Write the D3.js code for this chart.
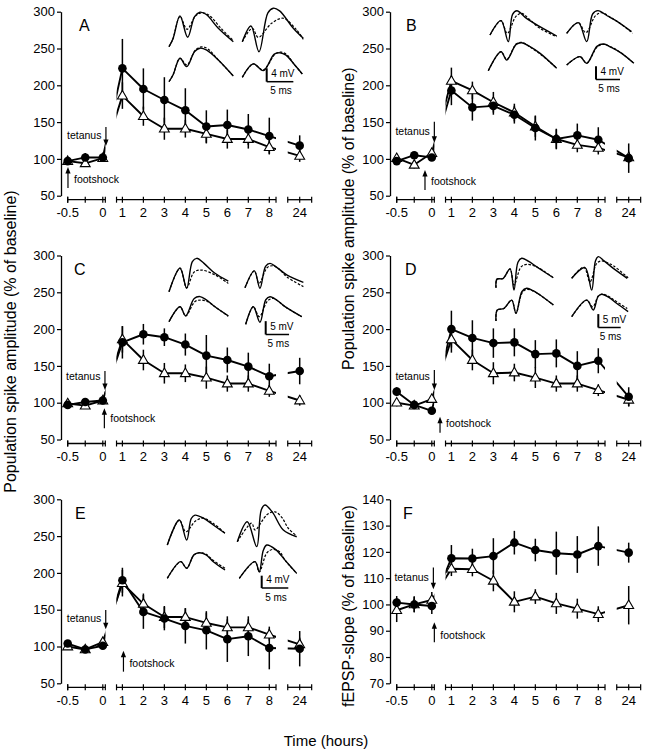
<!DOCTYPE html>
<html><head><meta charset="utf-8">
<script src="https://cdn.jsdelivr.net/npm/d3@7"></script>
<style>
body{margin:0;background:#fff}
svg{display:block}
text{font-family:"Liberation Sans",Arial,Helvetica,sans-serif;fill:#000}
</style>
</head><body>
<svg id="c" width="649" height="756"></svg>
<script>
// ---------------- DATA ----------------
const hours = [-0.5,-0.25,0,1,2,3,4,5,6,7,8,24];
const xTickValues = [-0.5,-0.25,0,1,2,3,4,5,6,7,8,24];
const xTickLabels = ["-0.5","","0","1","2","3","4","5","6","7","8","24"];
const yTicksSpike = [50,100,150,200,250,300];
const yTicksSlope = [70,80,90,100,110,120,130,140];

const circleA = [97,102,102,223,195,180,166,144,146,140,131,118];
const circleErrA = [5,6,5,40,28,31,30,22,21,21,25,14];
const triangleA = [97,94,101,186,158,141,141,134,127,127,116,104];
const triangleErrA = [4,4,4,18,13,15,12,13,13,13,9,8];

const circleB = [97,105,102,193,170,172,160,142,127,132,126,101];
const circleErrB = [4,4,5,20,18,12,12,17,14,16,17,20];
const triangleB = [101,92,108,206,193,177,163,144,127,119,115,102];
const triangleErrB = [5,5,6,18,12,14,12,14,13,10,9,8];

const circleC = [97,101,103,182,193,189,179,164,158,149,136,143];
const circleErrC = [4,4,5,22,14,12,15,28,17,19,17,18];
const triangleC = [99,96,103,186,158,140,140,134,126,126,116,103];
const triangleErrC = [4,4,4,18,14,14,12,15,11,11,8,7];

const circleD = [115,97,89,200,188,181,182,166,167,150,157,108];
const circleErrD = [6,4,3,25,24,20,19,19,19,20,17,13];
const triangleD = [100,96,105,186,158,140,141,134,126,126,117,104];
const triangleErrD = [5,4,5,18,14,15,12,14,11,11,8,9];

const circleE = [104,96,101,190,147,138,128,122,110,114,98,97];
const circleErrE = [4,4,4,17,23,16,24,26,31,27,29,24];
const triangleE = [100,96,106,186,158,140,140,132,126,126,116,103];
const triangleErrE = [4,4,5,18,14,15,12,14,11,11,8,9];

const circleF = [100.7,100,99.4,117.6,117.5,118.4,123.5,120.7,119.5,119,122.2,119.7];
const circleErrF = [2.5,3,3,5,3.7,6.8,4.5,4.3,8.2,7,7.5,3.8];
const triangleF = [97.8,100,101.7,113.6,113.4,109,101,103,100.4,98.4,96.3,99.7];
const triangleErrF = [4.5,3,3,2.8,2.7,4,4,2.8,4,3.8,3,7.3];

// annotation arrows: [x (h), tip value, tail value, text value]
const tetanusArrows = {A:[0.16,117.5,143.4,132.5],B:[0.13,122,150.5,137],C:[0.11,117.3,143,136.3],D:[0.13,117.3,144.4,136.3],E:[0.15,123.4,149.6,138.3],F:[0.08,105.8,114.1,110.2]};
const footshockArrows = {A:[-0.496,89,60.5,72.7],B:[-0.097,85,57.7,69],C:[0.08,92.4,65.2,78.8],D:[0.42,81,59.2,72],E:[1.05,94.3,65.8,77.2],F:[0.13,93.2,85.6,88.3]};

// sample traces [ms, mV] relative to trace start (solid = after, dashed = before)
const tracesA = [
 {solid:[[0,0],[0.75,2.4],[2.06,9.2],[3.5,2.8],[4.8,9.0],[5.8,10.3],[7.0,9.6],[9.25,5.5],[12.07,1.5]],
  dashed:[[0,0],[0.75,2.4],[2.06,9.0],[3.38,5.2],[5.0,9.2],[6.25,10.1],[7.5,9.4],[9.75,5.5],[12.07,1.8]]},
 {solid:[[0,0],[1.63,4.7],[3.13,-3.0],[4.8,8.6],[5.82,10.0],[7.0,9.2],[9.57,4.0],[11.44,1.0]],
  dashed:[[0,0],[1.88,4.0],[3.0,1.3],[5.5,5.5],[7.7,7.0],[10.2,3.5],[11.44,0.7]]},
 {solid:[[0,0],[0.75,2.0],[2.06,7.0],[3.32,4.5],[4.8,9.0],[5.82,10.0],[7.0,9.5],[9.25,6.5],[12.07,1.7]],
  dashed:[[0,0],[0.75,2.0],[2.06,7.0],[3.32,5.0],[5.0,9.5],[6.13,10.4],[7.3,9.8],[9.25,6.5],[12.07,1.7]]},
 {solid:[[0,0],[2.06,4.0],[3.94,2.0],[6.0,6.9],[7.07,7.3],[8.2,6.6],[9.57,4.2],[11.26,1.0]],
  dashed:[[0,0],[2.06,4.0],[3.94,2.2],[6.2,7.0],[7.3,7.5],[8.4,6.7],[9.57,4.2],[11.26,1.0]]}
];
const tracesB = [
 {solid:[[0,0],[2.29,4.3],[3.81,-2.0],[4.7,6.2],[5.6,7.3],[7.6,5.0],[10.4,2.5],[13.9,-0.3]],
  dashed:[[0,0],[2.29,4.3],[3.6,0.5],[5.4,5.6],[6.6,6.5],[8.0,5.0],[10.4,2.0],[13.9,-0.5]]},
 {solid:[[0,0],[2.42,3.2],[4.17,-2.5],[5.4,5.8],[6.5,6.8],[8.5,5.2],[11.1,3.0],[13.5,0.5]],
  dashed:[[0,0],[2.42,3.2],[4.0,0.2],[6.0,5.3],[7.3,6.2],[9.0,4.9],[11.1,3.0],[13.75,0]]},
 {solid:[[0,0],[2.65,5.7],[3.83,3.2],[5.8,7.9],[6.96,8.4],[8.6,7.3],[10.8,5.2],[14.25,0.7]],
  dashed:[[0,0],[2.65,5.7],[3.83,3.4],[5.8,8.0],[6.96,8.5],[8.6,7.2],[10.8,5.0],[14.25,0.8]]},
 {solid:[[0,0],[2.77,2.5],[4.17,0.5],[6.3,5.6],[7.63,6.3],[9.3,5.3],[11.46,3.5],[14.0,0.5]],
  dashed:[[0,0],[2.77,2.5],[4.17,0.6],[6.4,5.5],[7.8,6.2],[9.4,5.3],[11.46,3.5],[14.0,0.5]]}
];
const tracesC = [
 {solid:[[0,0],[2.36,8.8],[3.79,1.3],[5.0,11.3],[5.93,12.5],[7.5,10.6],[9.85,6.9],[12.7,4.0]],
  dashed:[[0,0],[2.36,8.8],[3.79,1.5],[5.4,7.4],[7.0,8.1],[9.85,6.3],[12.7,3.1]]},
 {solid:[[0,0],[2.0,6.3],[3.2,-0.2],[4.4,8.0],[5.35,9.1],[6.8,7.6],[8.93,4.8],[12.5,2.0]],
  dashed:[[0,0],[2.0,6.3],[3.0,1.6],[4.8,7.6],[6.06,8.2],[7.3,7.0],[8.93,4.1],[12.5,0.4]]},
 {solid:[[0,0],[2.36,5.6],[3.57,2.2],[5.4,8.7],[6.64,9.4],[8.0,8.2],[9.85,5.6],[12.7,2.2]],
  dashed:[[0,0],[2.36,5.6],[3.57,2.2],[5.6,7.6],[7.0,8.1],[8.3,7.5],[9.85,5.6],[12.7,2.0]]},
 {solid:[[0,0],[1.63,6.6],[3.06,0.75],[4.3,9.2],[5.2,10.3],[6.7,9.0],[8.42,6.6],[12.0,2.85]],
  dashed:[[0,0],[1.63,6.6],[2.91,2.85],[4.7,8.8],[5.91,9.7],[7.0,8.6],[8.42,6.6],[12.0,2.85]]}
];
const tracesD = [
 {solid:[[0,0],[0.22,3.2],[1.56,3.4],[3.13,7.0],[4.02,-0.9],[4.9,9.5],[5.74,11.0],[7.2,9.9],[9.08,7.8],[12.8,3.7]],
  dashed:[[0,0],[0.22,3.2],[1.56,3.4],[3.13,7.0],[4.02,1.0],[5.6,7.8],[6.85,8.7],[9.08,7.8],[12.8,3.7]]},
 {solid:[[0,0],[2.97,4.0],[4.46,-4.4],[5.3,6.5],[5.94,8.1],[7.3,6.4],[9.29,3.7],[12.4,0]],
  dashed:[[0,0],[2.7,4.2],[4.08,-1.3],[5.6,5.6],[6.7,6.5],[8.0,5.8],[9.29,4.7],[12.6,0.2]]},
 {solid:[[0,0],[0.29,4.1],[1.79,4.7],[3.5,7.8],[4.46,2.9],[5.8,11.0],[6.85,12.2],[8.3,11.3],[9.82,9.7],[12.8,6.0]],
  dashed:[[0,0],[0.29,4.1],[1.79,4.7],[3.5,7.8],[4.46,2.9],[5.9,10.7],[7.0,11.8],[8.4,11.1],[9.82,9.7],[12.8,6.0]]},
 {solid:[[0,0],[3.35,6.2],[4.82,2.5],[5.9,7.6],[6.7,8.4],[8.3,7.2],[10.0,5.0],[12.6,1.9]],
  dashed:[[0,0],[3.35,6.2],[4.69,3.7],[6.0,7.8],[6.9,8.4],[8.4,7.4],[10.0,5.6],[12.4,3.1]]}
];
const tracesE = [
 {solid:[[0,0],[2.26,8.1],[3.65,1.6],[4.5,8.6],[5.2,9.7],[6.8,8.7],[8.65,6.5],[10.85,3.8]],
  dashed:[[0,0],[2.26,8.1],[3.5,4.3],[5.3,7.8],[6.77,8.7],[8.65,7.0],[10.85,3.8]]},
 {solid:[[0,0],[1.88,6.5],[3.65,-1.6],[4.5,10.3],[5.2,11.9],[6.6,9.6],[8.65,3.8],[11.17,1.6]],
  dashed:[[0,0],[2.7,6.0],[3.33,3.8],[5.6,8.8],[7.09,9.7],[8.4,7.8],[9.59,4.35],[11.17,1.85]]},
 {solid:[[0,0],[2.52,5.4],[3.65,3.25],[5.0,7.6],[6.02,8.3],[7.3,7.6],[8.65,5.4],[10.85,2.7]],
  dashed:[[0,0],[2.52,5.4],[3.65,3.25],[5.0,7.6],[6.02,8.3],[7.3,7.8],[8.65,5.8],[10.85,3.25]]},
 {solid:[[0,0],[2.95,5.4],[3.76,2.1],[4.5,9.0],[5.15,10.8],[6.8,9.4],[8.59,5.9],[10.79,1.6]],
  dashed:[[0,0],[2.95,5.4],[3.76,2.1],[5.2,8.3],[6.39,9.4],[7.6,8.6],[8.59,5.9],[10.79,1.6]]}
];
const scaleBarMv = {A:4,B:4,C:5,D:5,E:4};
const scaleBarMs = 5;

// ---------------- LAYOUT ----------------
const colX = [61, 390], rowTop = [11.7, 255.5, 499.3], plotH = 184;
const panels = [
 {id:"A",col:0,row:0,c:circleA,ce:circleErrA,t:triangleA,te:triangleErrA,yd:[50,300],yt:yTicksSpike,lx:18},
 {id:"B",col:1,row:0,c:circleB,ce:circleErrB,t:triangleB,te:triangleErrB,yd:[50,300],yt:yTicksSpike,lx:16},
 {id:"C",col:0,row:1,c:circleC,ce:circleErrC,t:triangleC,te:triangleErrC,yd:[50,300],yt:yTicksSpike,lx:13},
 {id:"D",col:1,row:1,c:circleD,ce:circleErrD,t:triangleD,te:triangleErrD,yd:[50,300],yt:yTicksSpike,lx:15},
 {id:"E",col:0,row:2,c:circleE,ce:circleErrE,t:triangleE,te:triangleErrE,yd:[50,300],yt:yTicksSpike,lx:14},
 {id:"F",col:1,row:2,c:circleF,ce:circleErrF,t:triangleF,te:triangleErrF,yd:[70,140],yt:yTicksSlope,lx:13}
];
const insetLayout = {
 A:{ms:5.33,mv:3.35,bar:[266.7,81.7],o:[[169,46.7],[242.3,41.7],[169,81.7],[242.3,77.3]],tr:tracesA},
 B:{ms:4.8,mv:3.33,bar:[596,79.5],o:[[490,35],[566.7,33.3],[488.3,70.7],[566.7,65]],tr:tracesB},
 C:{ms:4.67,mv:2.67,bar:[265.7,334.5],o:[[169,291.7],[245,287.7],[169,321.7],[245.7,324.3]],tr:tracesC},
 D:{ms:4.48,mv:2.68,bar:[598.3,327.5],o:[[496,287.7],[571.7,278.3],[496,321],[571.7,316.7]],tr:tracesD},
 E:{ms:5.32,mv:3.08,bar:[261.7,588],o:[[167.3,545],[237.3,541.7],[167.3,578.3],[239.3,578.3]],tr:tracesE}
};

const xPiece = d3.scaleLinear().domain([-0.5,0,1,8,24,25]).range([6.7,41.8,61.4,208.3,238.7,259.7]);
const segs = [
 {s:d3.scaleLinear().domain([-0.5,0]).range([6.7,41.8]), ext:[-0.5,0.036], lo:-0.5, hi:0},
 {s:d3.scaleLinear().domain([1,8]).range([61.4,208.3]), ext:[0.72,8.32], lo:1, hi:8},
 {s:d3.scaleLinear().domain([24,25]).range([238.7,259.7]), ext:[23.43,24.57], lo:24, hi:24}
];

const svg = d3.select("#c");

panels.forEach(p => {
  const g = svg.append("g").attr("transform", `translate(${colX[p.col]},${rowTop[p.row]})`);
  const y = d3.scaleLinear().domain(p.yd).range([plotH, 0]);

  // y axis
  const ya = g.append("g").call(d3.axisLeft(y).tickValues(p.yt).tickSize(4).tickSizeOuter(0).tickPadding(2));
  ya.select(".domain").attr("stroke-width",1.3);
  ya.selectAll(".tick line").attr("stroke-width",1.2);
  ya.selectAll("text").attr("font-size",13).attr("font-family",'"Liberation Sans",Arial,sans-serif');

  // broken x axis
  const axY = plotH + 4;
  segs.forEach((sg, i) => {
    const ax = g.append("g");
    const x0 = sg.s(sg.ext[0]), x1 = sg.s(sg.ext[1]);
    ax.append("line").attr("x1",x0).attr("x2",x1).attr("y1",axY).attr("y2",axY)
      .attr("stroke","#000").attr("stroke-width",1.3);
    const tv = xTickValues.filter(v => v >= sg.lo && v <= sg.hi);
    const all = [sg.ext[0], ...tv, sg.ext[1]];
    ax.selectAll("line.tk").data(all).join("line").attr("class","tk")
      .attr("x1",d=>sg.s(d)).attr("x2",d=>sg.s(d)).attr("y1",axY-3).attr("y2",axY+3)
      .attr("stroke","#000").attr("stroke-width",1.2);
    ax.selectAll("text").data(tv).join("text")
      .attr("x",d=>sg.s(d)).attr("y",axY+17.4).attr("text-anchor","middle").attr("font-size",13)
      .text(d => xTickLabels[xTickValues.indexOf(d)]);
  });

  // clip for data lines
  const cid = "clip"+p.id;
  const cp = g.append("clipPath").attr("id",cid);
  segs.forEach((sg,i) => {
    const x0 = i===0 ? -10 : sg.s(sg.ext[0]);
    const x1 = sg.s(sg.ext[1]);
    cp.append("rect").attr("x",x0).attr("y",-20).attr("width",x1-x0).attr("height",plotH+40);
  });

  const series = [
    {v:p.t, e:p.te, kind:"tri"},
    {v:p.c, e:p.ce, kind:"circ"}
  ];
  const line = d3.line().x((d,i)=>xPiece(hours[i])).y(d=>y(d));
  series.forEach(s => {
    g.append("path").attr("d",line(s.v)).attr("fill","none").attr("stroke","#000")
      .attr("stroke-width",1.9).attr("stroke-linejoin","round").attr("clip-path",`url(#${cid})`);
  });
  series.forEach(s => {
    g.append("g").selectAll("line").data(s.v).join("line")
      .attr("x1",(d,i)=>xPiece(hours[i])).attr("x2",(d,i)=>xPiece(hours[i]))
      .attr("y1",(d,i)=>y(d - s.e[i])).attr("y2",(d,i)=>y(d + s.e[i]))
      .attr("stroke","#000").attr("stroke-width",1.5);
  });
  const tri = d3.symbol(d3.symbolTriangle, 42)();
  g.append("g").selectAll("path").data(p.t).join("path")
    .attr("d",tri).attr("transform",(d,i)=>`translate(${xPiece(hours[i])},${y(d)+0.5})`)
    .attr("fill","#fff").attr("stroke","#000").attr("stroke-width",1.1);
  g.append("g").selectAll("circle").data(p.c).join("circle")
    .attr("cx",(d,i)=>xPiece(hours[i])).attr("cy",d=>y(d)).attr("r",4.3).attr("fill","#000");

  // arrows
  const drawArrow = (a, label, anchor, dx) => {
    const x = xPiece(a[0]), tip = y(a[1]), tail = y(a[2]);
    const head = 6.5 * Math.sign(tip - tail);
    g.append("line").attr("x1",x).attr("x2",x).attr("y1",tail).attr("y2",tip - head*0.8)
      .attr("stroke","#000").attr("stroke-width",1.2);
    g.append("path").attr("d",`M${x},${tip} L${x-2.6},${tip-head} L${x+2.6},${tip-head} Z`).attr("fill","#000");
    g.append("text").attr("x",x+dx).attr("y",y(a[3])).attr("dy","0.35em")
      .attr("text-anchor",anchor).attr("font-size",10.5).text(label);
  };
  drawArrow(tetanusArrows[p.id], "tetanus", "end", -4.5);
  drawArrow(footshockArrows[p.id], "footshock", "start", 6);

  // panel letter
  g.append("text").attr("x",p.lx).attr("y",19.5).attr("font-size",16).text(p.id);
});

// insets
Object.keys(insetLayout).forEach(k => {
  const L = insetLayout[k];
  const gi = svg.append("g");
  L.tr.forEach((tr, j) => {
    const [ox, oy] = L.o[j];
    const xs = d3.scaleLinear().domain([0,1]).range([ox, ox + L.ms]);
    const ys = d3.scaleLinear().domain([0,1]).range([oy, oy - L.mv]);
    const ln = d3.line().x(d=>xs(d[0])).y(d=>ys(d[1])).curve(d3.curveCatmullRom.alpha(0.5));
    gi.append("path").attr("d",ln(tr.dashed)).attr("fill","none").attr("stroke","#000")
      .attr("stroke-width",1.2).attr("stroke-dasharray","2.6,1.6");
    gi.append("path").attr("d",ln(tr.solid)).attr("fill","none").attr("stroke","#000")
      .attr("stroke-width",1.4);
  });
  const [bx, by] = L.bar;
  const bxs = d3.scaleLinear().domain([0,1]).range([bx, bx + L.ms]);
  const bys = d3.scaleLinear().domain([0,1]).range([by, by - L.mv]);
  gi.append("line").attr("x1",bx).attr("x2",bx).attr("y1",by).attr("y2",bys(scaleBarMv[k]))
    .attr("stroke","#000").attr("stroke-width",2);
  gi.append("line").attr("x1",bx).attr("x2",bxs(scaleBarMs)).attr("y1",by).attr("y2",by)
    .attr("stroke","#000").attr("stroke-width",1.5);
  gi.append("text").attr("x",bx+4.5).attr("y",by-8.5).attr("dy","0.35em").attr("font-size",10)
    .text(scaleBarMv[k] + " mV");
  gi.append("text").attr("x",(bx+bxs(scaleBarMs))/2+1).attr("y",by+9).attr("dy","0.35em")
    .attr("text-anchor","middle").attr("font-size",10).text(scaleBarMs + " ms");
});

// axis titles
const title = (x, y, txt) => svg.append("text").attr("transform",`translate(${x},${y}) rotate(-90)`)
  .attr("text-anchor","middle").attr("dy","0.35em").attr("font-size",16).text(txt);
title(10, 341.5, "Population spike amplitude (% of baseline)");
title(348.5, 218.7, "Population spike amplitude (% of baseline)");
title(348.5, 606, "fEPSP-slope (% of baseline)");
svg.append("text").attr("x",326).attr("y",746).attr("text-anchor","middle").attr("font-size",15).text("Time (hours)");
</script>
</body></html>
